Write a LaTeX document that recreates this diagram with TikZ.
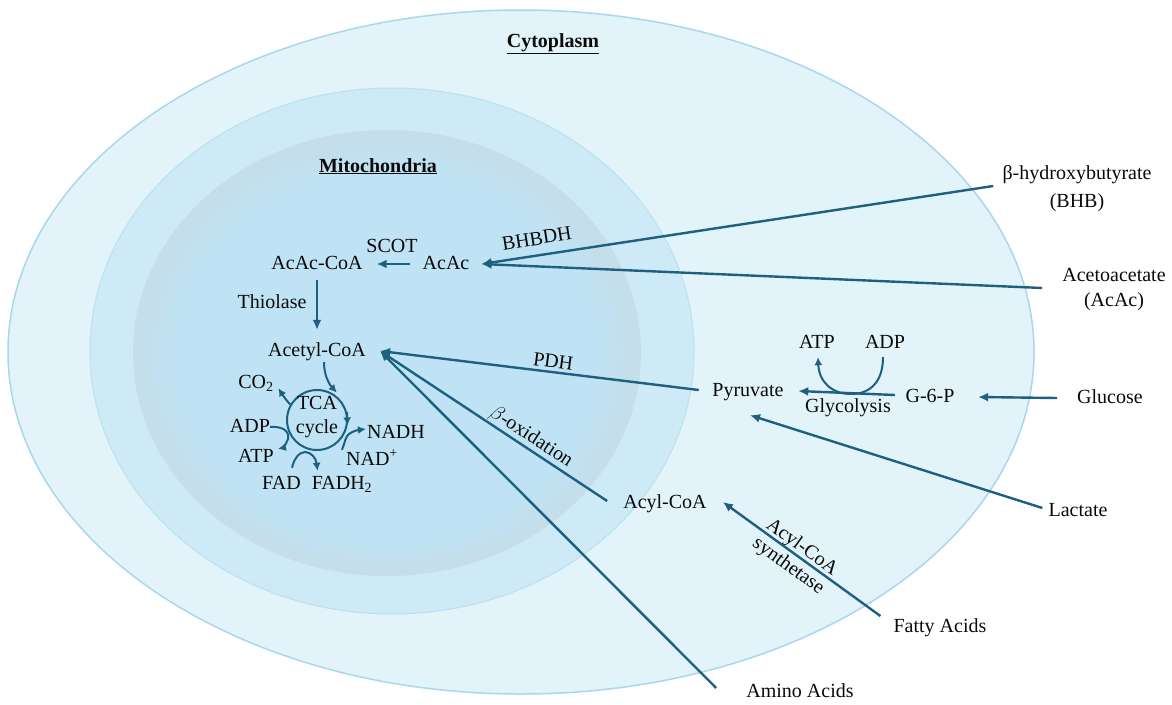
\documentclass[tikz,border=0pt]{standalone}
\usepackage{fontspec}
\setmainfont{Liberation Serif}
\usetikzlibrary{arrows.meta}
\definecolor{arrowc}{HTML}{1D6080}
\definecolor{cytofill}{HTML}{E2F3FA}
\definecolor{cytoline}{HTML}{A9D7EC}
\definecolor{mitofill}{HTML}{CDEAF6}
\definecolor{mitoline}{HTML}{BCE0F0}
\definecolor{ringfill}{HTML}{C5DEEA}
\definecolor{corefill}{HTML}{BFE3F4}
\definecolor{txt}{HTML}{0A0A0A}
\begin{document}
\begin{tikzpicture}[x=1pt,y=-1pt,
  lbl/.style={inner xsep=6pt, inner ysep=3pt, text height=14pt, text depth=4pt,
              font=\fontsize{20}{24}\selectfont, text=txt},
  two/.style={inner xsep=6pt, inner ysep=3pt, align=center,
              font=\fontsize{20}{26}\selectfont, text=txt},
  arr/.style={draw=arrowc, line width=2.4pt, -{Latex[length=10pt,width=9pt]}},
  thinarr/.style={draw=arrowc, line width=2pt, -{Latex[length=8pt,width=8pt]}},
]
\fill[white] (0,0) rectangle (1172,704);
\useasboundingbox (0,0) rectangle (1172,704);

% compartments
\filldraw[fill=cytofill, draw=cytoline, line width=1.5pt] (521,352) ellipse [x radius=513, y radius=342];
\filldraw[fill=mitofill, draw=mitoline, line width=1pt] (392,351) ellipse [x radius=302, y radius=263];
\fill[ringfill] (387,353) ellipse [x radius=254, y radius=223];
\fill[ringfill!75!corefill] (387,354) ellipse [x radius=244, y radius=214];
\fill[ringfill!50!corefill] (387,355) ellipse [x radius=234, y radius=206];
\fill[ringfill!25!corefill] (387,356) ellipse [x radius=224, y radius=197];
\fill[corefill] (387,357) ellipse [x radius=214, y radius=189];

% titles
\node[lbl, font=\fontsize{20}{24}\selectfont\bfseries] (cyto) at (553,42) {\underline{Cytoplasm}};
\node[lbl, font=\fontsize{20}{24}\selectfont\bfseries] (mito) at (378,167) {\underline{Mitochondria}};

% external substrates
\node[two, font=\fontsize{20}{28}\selectfont] (bhb) at (1077,189) {β-hydroxybutyrate\\(BHB)};
\node[two, font=\fontsize{20}{25}\selectfont] (acetoacetate) at (1114,290) {Acetoacetate\\(AcAc)};
\node[lbl] (glucose) at (1110,398) {Glucose};
\node[lbl] (lactate) at (1078,511) {Lactate};
\node[lbl] (fatty) at (940,627) {Fatty Acids};
\node[lbl] (amino) at (800,692) {Amino Acids};

% metabolites
\node[lbl, inner xsep=12pt] (acac) at (446,264) {AcAc};
\node[lbl, inner xsep=14pt] (acaccoa) at (317,264) {AcAc-CoA};
\node[lbl, inner xsep=14pt] (acetylcoa) at (317,351) {Acetyl-CoA};
\node[lbl] (pyruvate) at (748,391) {Pyruvate};
\node[lbl] (g6p) at (930,397) {G-6-P};
\node[lbl] (acylcoa) at (665,503) {Acyl-CoA};
\node[lbl] (atpg) at (817,343) {ATP};
\node[lbl] (adpg) at (885,343) {ADP};

% enzyme labels
\node[lbl] (scot) at (392,247) {SCOT};
\node[lbl, rotate=9] (bhbdh) at (537,240) {BHBDH};
\node[lbl] (thiolase) at (272,303) {Thiolase};
\node[lbl, rotate=-7.5] (pdh) at (553,363) {PDH};
\node[lbl, rotate=-33] (box) at (531,437) {$\beta$-oxidation};
\node[two, rotate=-36, font=\fontsize{20}{23}\selectfont] (acs) at (795,557) {Acyl-CoA\\synthetase};
\node[lbl] (glyco) at (848,407) {Glycolysis};

% TCA cycle
\node[circle, draw=arrowc, line width=2pt, minimum size=60pt, inner sep=0pt] (tca) at (317,420) {};
\node[two, font=\fontsize{20}{24}\selectfont, inner sep=0pt] (tcatext) at (317,417) {TCA\\cycle};
\node[lbl] (co2) at (256,383) {CO\textsubscript{2}};
\node[lbl] (adptca) at (250,427) {ADP};
\node[lbl] (atptca) at (256,457) {ATP};
\node[lbl] (nadh) at (396,433) {NADH};
\node[lbl] (nadp) at (372,460) {NAD\textsuperscript{+}};
\node[lbl] (fad) at (281.5,484) {FAD};
\node[lbl] (fadh) at (342,484) {FADH\textsubscript{2}};

% main connectors
\draw[arr] ([shift={(-3,-3)}]bhb.west) -- (acac.east);
\draw[arr] ([shift={(-14,-2)}]acetoacetate.west) -- (acac.east);
\draw[arr] (acac.west) -- (acaccoa.east);
\draw[arr] ([shift={(0,4)}]acaccoa.south) -- ([shift={(0,-9)}]acetylcoa.north);
\draw[arr] ([shift={(-7.5,-1)}]pyruvate.west) -- (acetylcoa.east);
\draw[arr] ([shift={(-10,-2)}]acylcoa.west) -- (acetylcoa.east);
\draw[arr] ([shift={(-24,-4)}]amino.west) -- (acetylcoa.east);
\draw[arr] ([shift={(-4.5,-2)}]g6p.west) -- ([shift={(8.5,0)}]pyruvate.east);
\draw[arr] ([shift={(-14,0)}]glucose.west) -- ([shift={(17.5,0)}]g6p.east);
\draw[arr] ([shift={(0,-3)}]lactate.west) -- ([shift={(2,12)}]pyruvate.south);
\draw[arr] ([shift={(-7,-11)}]fatty.west) -- ([shift={(10,-1)}]acylcoa.east);

% glycolysis ATP/ADP
\draw[thinarr] ([shift={(-2,2)}]adpg.south) .. controls (883,382) and (870,394) .. (851,394)
   .. controls (832,394) and (819,382) .. ([shift={(1,2)}]atpg.south);

% TCA arrows
\draw[thinarr] ([shift={(7,-1)}]acetylcoa.south) .. controls (324,375) and (329,384) .. ([shift={(2,-2)}]tca.55);
\draw[thinarr] (tca.15) .. controls (347.1,416.5) and (347.3,420.9) .. (tca.-10);
\draw[thinarr] (tca.150) .. controls (286,400) and (282,394) .. ([shift={(-1.5,-7)}]co2.south east);
\draw[thinarr] ([shift={(-6,0)}]adptca.east) .. controls (282,426) and (290,431) .. (288,439)
   .. controls (286,445) and (282,448) .. ([shift={(-2,4)}]atptca.north east);
\draw[thinarr] ([shift={(2,2)}]nadp.north west) .. controls (345,443) and (345,437) .. (349,434)
   .. controls (353,431) and (358,430) .. ([shift={(5,-4)}]nadh.west);
\draw[thinarr] ([shift={(10.5,-4)}]fad.north) .. controls (294,459) and (299,452) .. (305,452)
   .. controls (311,452) and (316,458) .. ([shift={(12,-1)}]fadh.north west);
\end{tikzpicture}
\end{document}
